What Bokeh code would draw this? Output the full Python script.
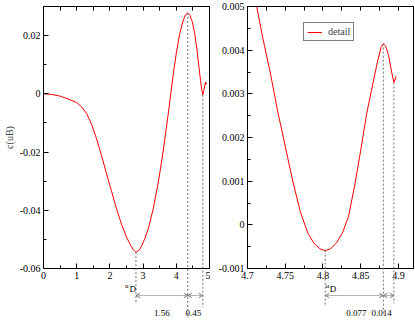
from bokeh.plotting import figure
from bokeh.models import Range1d, FixedTicker, LinearAxis, Legend, LegendItem
from bokeh.core.properties import value
from bokeh.layouts import row
from bokeh.embed import file_html
from bokeh.resources import INLINE

# ---------------- data ----------------
left_x = [0.0, 0.25, 0.5, 0.75, 1.0, 1.15, 1.3, 1.45, 1.6, 1.75, 1.9, 2.05,
          2.2, 2.35, 2.5, 2.6, 2.7, 2.785, 2.87, 2.95, 3.05, 3.17, 3.3, 3.45,
          3.6, 3.75, 3.9, 4.0, 4.1, 4.2, 4.28, 4.345, 4.41, 4.48, 4.55, 4.62,
          4.68, 4.73, 4.77, 4.80, 4.83, 4.86, 4.88, 4.894, 4.90]
left_y = [0.0, -0.0002, -0.0008, -0.0018, -0.0030, -0.0045, -0.0068, -0.0105,
          -0.0155, -0.0213, -0.0275, -0.0335, -0.0395, -0.0448, -0.0492,
          -0.0515, -0.0535, -0.0544, -0.0538, -0.0524, -0.0498, -0.0458,
          -0.0397, -0.0310, -0.0200, -0.0075, 0.0060, 0.0140, 0.0205, 0.0250,
          0.0272, 0.0278, 0.0270, 0.0248, 0.0210, 0.0155, 0.0095, 0.0045,
          0.0012, -0.0003, 0.0012, 0.0030, 0.0041, 0.0033, 0.0038]

detail_x = [4.700, 4.710, 4.720, 4.730, 4.740, 4.750, 4.760, 4.770, 4.780,
            4.788, 4.796, 4.803, 4.810, 4.818, 4.826, 4.834, 4.842, 4.850,
            4.858, 4.866, 4.872, 4.877, 4.880, 4.883, 4.887, 4.891, 4.894,
            4.897]
detail_y = [0.0061, 0.0052, 0.0043, 0.0035, 0.0026, 0.0018, 0.0010, 0.00030,
            -0.00019, -0.00042, -0.00055, -0.00059, -0.00055, -0.00041,
            -0.00018, 0.00020, 0.00090, 0.00170, 0.00255, 0.00322, 0.00372,
            0.00406, 0.00415, 0.00410, 0.00388, 0.00350, 0.00326, 0.00340]

left_xticks = [0, 1, 2, 3, 4, 5]
left_xtick_labels = ["0", "1", "2", "3", "4", "5"]
left_xminor = [0.5, 1.5, 2.5, 3.5, 4.5]
left_yticks = [-0.06, -0.04, -0.02, 0, 0.02]
left_ytick_labels = ["-0.06", "-0.04", "-0.02", "0", "0.02"]
left_yminor = [-0.05, -0.03, -0.01, 0.01]

detail_xticks = [4.7, 4.75, 4.8, 4.85, 4.9]
detail_xtick_labels = ["4.7", "4.75", "4.8", "4.85", "4.9"]
detail_xminor = [4.725, 4.775, 4.825, 4.875]
detail_yticks = [-0.001, 0, 0.001, 0.002, 0.003, 0.004, 0.005]
detail_ytick_labels = ["-0.001", "0", "0.001", "0.002", "0.003", "0.004", "0.005"]
detail_yminor = [-0.0005, 0.0005, 0.0015, 0.0025, 0.0035, 0.0045]

left_marks_x = [2.785, 4.345, 4.80]
left_marks_y = [-0.0544, 0.0278, -0.0003]
left_gap_labels = ["1.56", "0.45"]
detail_marks_x = [4.803, 4.880, 4.894]
detail_marks_y = [-0.00059, 0.00415, 0.00326]
detail_gap_labels = ["0.077", "0.014"]

y_label = "c(uB)"
legend_label = "detail"
marker_main, marker_sub = "u", "D"

# ---------------- style / layout ----------------
FONT = "Liberation Serif"
FW = 166          # frame width
FH = 262          # frame height
BT = 6            # space above frame
BB = 56           # space below frame
ARROW_Y = 27      # px below frame
GAP_LABEL_Y = 44.5
MARK_U_Y, MARK_D_Y = 17, 20
HEAD_DX, HEAD_DY = 4, 2.2


def make_fig(xr, yr, bl, br, xt, xtl, xm, yt, ytl, ym):
    p = figure(frame_width=FW, frame_height=FH, x_range=Range1d(*xr),
               y_range=Range1d(*yr), output_backend="svg",
               toolbar_location=None, min_border_left=bl, min_border_right=br,
               min_border_top=BT, min_border_bottom=BB)
    p.grid.visible = False
    p.outline_line_color = "black"
    p.background_fill_color = "white"
    p.border_fill_color = "white"
    for ax, t, tl, m in ((p.xaxis[0], xt, xtl, xm), (p.yaxis[0], yt, ytl, ym)):
        ax.ticker = FixedTicker(ticks=t, minor_ticks=m)
        ax.major_label_overrides = {v: s for v, s in zip(t, tl)}
        ax.major_tick_in = 5
        ax.major_tick_out = 0
        ax.minor_tick_in = 3
        ax.minor_tick_out = 0
        ax.major_label_text_font = FONT
        ax.major_label_text_font_size = "10px"
        ax.major_label_text_color = "black"
        ax.axis_line_color = "black"
        ax.major_tick_line_color = "black"
        ax.minor_tick_line_color = "black"
    p.xaxis[0].major_label_standoff = 3
    p.yaxis[0].major_label_standoff = 3
    top = LinearAxis(ticker=FixedTicker(ticks=[], minor_ticks=list(xt) + list(xm)),
                     major_tick_out=0, minor_tick_in=4, minor_tick_out=0,
                     axis_line_color="black", minor_tick_line_color="black")
    p.add_layout(top, "above")
    return p


def annotate(p, xr, yr, mx, my, ends, gap_labels, gap_offs, u_off, d_off):
    xpp = (xr[1] - xr[0]) / FW
    ypp = (yr[1] - yr[0]) / FH

    def below(px):
        return yr[0] - px * ypp

    # dotted drop lines from the extrema
    p.segment(x0=mx, y0=my, x1=mx, y1=[below(e) for e in ends],
              line_color="#707070", line_width=1, line_dash="2 2",
              level="overlay")
    # double-headed distance arrows
    ya = below(ARROW_Y)
    p.segment(x0=mx[:-1], y0=[ya] * (len(mx) - 1), x1=mx[1:],
              y1=[ya] * (len(mx) - 1), line_color="#b4b4b4", line_width=1,
              level="overlay")
    hx0, hy0, hx1, hy1 = [], [], [], []
    for i in range(len(mx) - 1):
        for tip, sgn in ((mx[i], 1), (mx[i + 1], -1)):
            for s in (1, -1):
                hx0.append(tip)
                hy0.append(ya)
                hx1.append(tip + sgn * HEAD_DX * xpp)
                hy1.append(ya + s * HEAD_DY * ypp)
    p.segment(x0=hx0, y0=hy0, x1=hx1, y1=hy1, line_color="#7a7a7a",
              line_width=1, level="overlay")
    mids = [(mx[i] + mx[i + 1]) / 2 for i in range(len(mx) - 1)]
    p.text(x=mids, y=[below(GAP_LABEL_Y)] * len(mids), text=gap_labels,
           x_offset=gap_offs, text_align="center", text_baseline="middle",
           text_font=value(FONT), text_font_size="9px", text_color="black",
           level="overlay")
    # u_D marker label
    p.text(x=[mx[0]], y=[below(MARK_U_Y)], text=[marker_main], x_offset=u_off,
           text_align="left", text_baseline="middle", text_font=value(FONT),
           text_font_size="7px", text_color="black", level="overlay")
    p.text(x=[mx[0]], y=[below(MARK_D_Y)], text=[marker_sub], x_offset=d_off,
           text_align="left", text_baseline="middle", text_font=value(FONT),
           text_font_size="9px", text_color="black", level="overlay")


# left panel
LXR, LYR = (0, 5), (-0.06, 0.03)
p1 = make_fig(LXR, LYR, 41, 1, left_xticks, left_xtick_labels, left_xminor,
              left_yticks, left_ytick_labels, left_yminor)
p1.yaxis[0].axis_label = y_label
p1.yaxis[0].axis_label_text_font = FONT
p1.yaxis[0].axis_label_text_font_size = "10px"
p1.yaxis[0].axis_label_text_font_style = "normal"
p1.yaxis[0].axis_label_standoff = 2
p1.line(left_x, left_y, line_color="red", line_width=1)
annotate(p1, LXR, LYR, left_marks_x, left_marks_y, [35, 49, 39],
         left_gap_labels, [0, -2], -11, -6.5)

# right panel (detail)
RXR, RYR = (4.7, 4.92), (-0.001, 0.005)
p2 = make_fig(RXR, RYR, 37, 4, detail_xticks, detail_xtick_labels,
              detail_xminor, detail_yticks, detail_ytick_labels, detail_yminor)
r = p2.line(detail_x, detail_y, line_color="red", line_width=1)
annotate(p2, RXR, RYR, detail_marks_x, detail_marks_y, [37, 47, 35],
         detail_gap_labels, [2, -7], 0.5, 4.5)
leg = Legend(items=[LegendItem(label=legend_label, renderers=[r])],
             location=(56, FH - 19 - 16), border_line_color="black",
             border_line_width=1, padding=3, margin=0, spacing=0,
             glyph_width=15, glyph_height=10, label_standoff=6,
             label_height=10, label_text_font=FONT, label_text_font_size="10px",
             background_fill_color="white", background_fill_alpha=1)
p2.add_layout(leg)

layout = row(p1, p2)
open("out.html", "w").write(file_html(layout, INLINE))
